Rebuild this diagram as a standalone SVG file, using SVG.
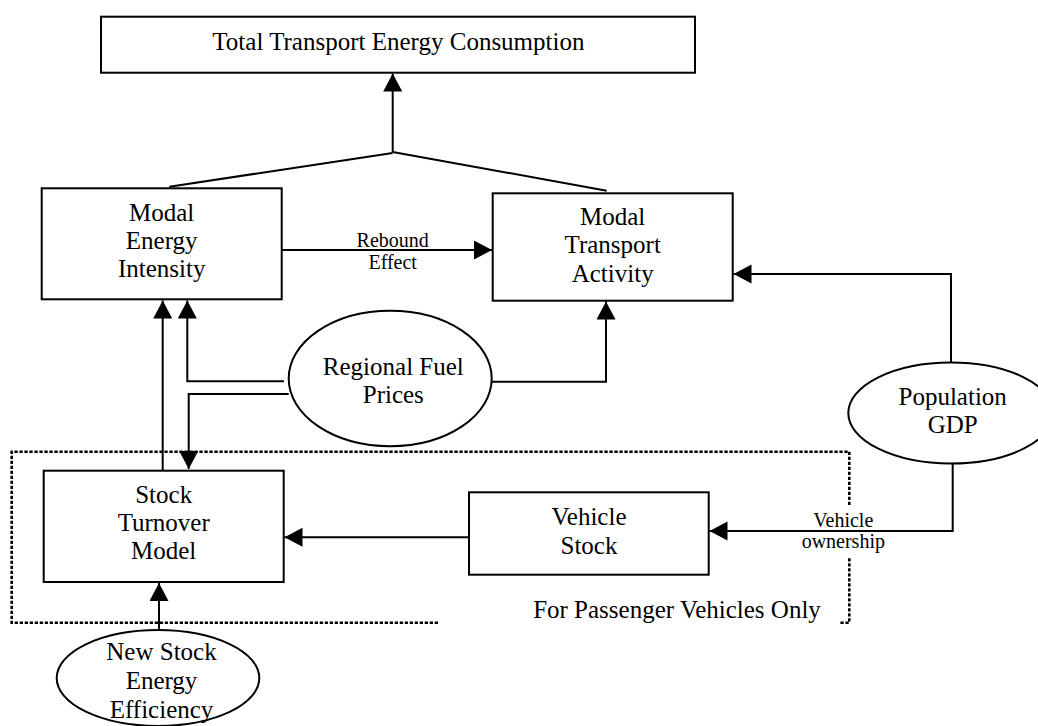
<svg xmlns="http://www.w3.org/2000/svg" width="1038" height="726" viewBox="0 0 1038 726">
  <style>
    .box { fill: #fff; stroke: #000; stroke-width: 2; }
    .oval { fill: #fff; stroke: #000; stroke-width: 2; }
    .lbl { font-family: "Liberation Serif", "Times New Roman", serif; font-size: 25px; fill: #000; text-anchor: middle; }
    .small { font-family: "Liberation Serif", "Times New Roman", serif; font-size: 20px; fill: #000; text-anchor: middle; }
    .wire { fill: none; stroke: #000; stroke-width: 2; }
    .arrow { fill: none; stroke: #000; stroke-width: 2; marker-end: url(#head); }
    .dots { fill: none; stroke: #000; stroke-width: 2.6; stroke-dasharray: 3.3 1.7; }
  </style>
  <defs>
    <marker id="head" markerUnits="userSpaceOnUse" markerWidth="19" markerHeight="20" refX="18" refY="9.5" orient="auto">
      <path d="M0,0 L18,9.5 L0,19 Z" fill="#000"/>
    </marker>
  </defs>

  <rect width="1038" height="726" fill="#fff"/>

  <!-- passenger-vehicle boundary -->
  <g id="passenger-boundary">
    <path class="dots" d="M438,622.7 L11.7,622.7 L11.7,451.7 L849.3,451.7 L849.3,505"/>
    <path class="dots" d="M849.3,558.3 L849.3,622.7 L840,622.7"/>
    <text class="lbl" x="677" y="618.3">For Passenger Vehicles Only</text>
  </g>

  <!-- connectors -->
  <g id="connectors">
    <!-- both modal outputs combine into the total -->
    <path class="wire" d="M169.3,186.7 L392.7,153"/>
    <path class="wire" d="M392.7,152 L606.7,190.7"/>
    <path class="arrow" d="M392.7,152 L392.7,73.5"/>
    <!-- rebound effect -->
    <path class="arrow" d="M281.7,250 L492,250"/>
    <text class="small" x="392.7" y="247">Rebound</text>
    <text class="small" x="392.7" y="269">Effect</text>
    <!-- stock turnover feeds energy intensity -->
    <path class="arrow" d="M162.7,470.7 L162.7,300.5"/>
    <!-- fuel prices to energy intensity -->
    <path class="arrow" d="M284,381.3 L187.3,381.3 L187.3,300.5"/>
    <!-- fuel prices to stock turnover -->
    <path class="arrow" d="M288.7,394 L188.7,394 L188.7,469"/>
    <!-- fuel prices to transport activity -->
    <path class="arrow" d="M491.7,381.7 L606,381.7 L606,301.5"/>
    <!-- population / GDP to transport activity -->
    <path class="arrow" d="M951,362.7 L951,274 L733.5,274"/>
    <!-- population / GDP to vehicle stock -->
    <path class="arrow" d="M952.7,463.5 L952.7,531 L709.5,531"/>
    <text class="small" x="843.3" y="527.3">Vehicle</text>
    <text class="small" x="843.3" y="548.3">ownership</text>
    <!-- vehicle stock to stock turnover -->
    <path class="arrow" d="M469,537.3 L284.5,537.3"/>
    <!-- new stock efficiency to stock turnover -->
    <path class="arrow" d="M159,630 L159,583"/>
  </g>

  <!-- nodes -->
  <g id="total-energy">
    <rect class="box" x="101" y="16.7" width="594" height="56"/>
    <text class="lbl" x="398.4" y="50">Total Transport Energy Consumption</text>
  </g>

  <g id="energy-intensity">
    <rect class="box" x="41.7" y="188.3" width="240" height="111"/>
    <text class="lbl" x="161.7" y="220.7">Modal</text>
    <text class="lbl" x="161.7" y="249.3">Energy</text>
    <text class="lbl" x="161.7" y="277.3">Intensity</text>
  </g>

  <g id="transport-activity">
    <rect class="box" x="492.7" y="193.3" width="240" height="107.4"/>
    <text class="lbl" x="612.7" y="225">Modal</text>
    <text class="lbl" x="612.7" y="253.3">Transport</text>
    <text class="lbl" x="612.7" y="281.7">Activity</text>
  </g>

  <g id="fuel-prices">
    <ellipse class="oval" cx="390.2" cy="378.5" rx="101.5" ry="67.7"/>
    <text class="lbl" x="393.3" y="375">Regional Fuel</text>
    <text class="lbl" x="393.3" y="403.3">Prices</text>
  </g>

  <g id="population-gdp">
    <ellipse class="oval" cx="951" cy="413" rx="102.7" ry="50.5"/>
    <text class="lbl" x="952.7" y="405">Population</text>
    <text class="lbl" x="952.7" y="433.3">GDP</text>
  </g>

  <g id="stock-turnover">
    <rect class="box" x="43.7" y="470.7" width="240" height="111.3"/>
    <text class="lbl" x="163.7" y="502.7">Stock</text>
    <text class="lbl" x="163.7" y="530.7">Turnover</text>
    <text class="lbl" x="163.7" y="559.3">Model</text>
  </g>

  <g id="vehicle-stock">
    <rect class="box" x="469" y="492.3" width="239.7" height="82.4"/>
    <text class="lbl" x="589" y="525">Vehicle</text>
    <text class="lbl" x="589" y="554">Stock</text>
  </g>

  <g id="new-stock-efficiency">
    <ellipse class="oval" cx="158" cy="678" rx="101.3" ry="48"/>
    <text class="lbl" x="161.5" y="660">New Stock</text>
    <text class="lbl" x="161.5" y="689">Energy</text>
    <text class="lbl" x="161.5" y="718">Efficiency</text>
  </g>
</svg>
